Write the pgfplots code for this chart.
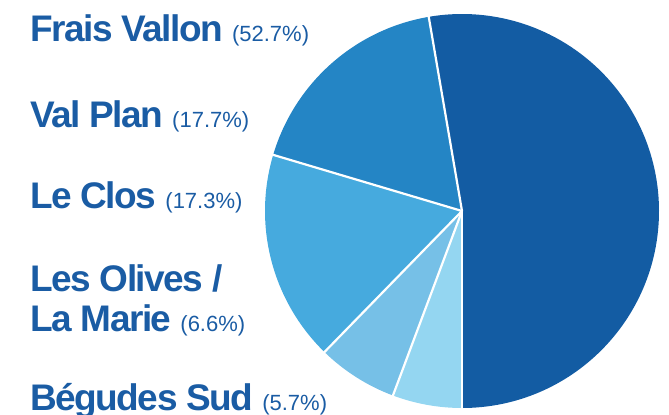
\documentclass[border=0pt]{standalone}
\usepackage{fontspec}
\setmainfont{Liberation Sans}
\newfontfamily\labfont{Liberation Sans}[LetterSpace=-4]
\usepackage{pgfplots}
\pgfplotsset{compat=1.18}

\definecolor{c1}{HTML}{135CA3}
\definecolor{c2}{HTML}{2485C5}
\definecolor{c3}{HTML}{46AADE}
\definecolor{c4}{HTML}{76C0E7}
\definecolor{c5}{HTML}{94D6F1}
\definecolor{txt}{HTML}{1A5CA4}

% shares in percent, clockwise order starting from the bottom
\def\pFV{52.7}
\def\pVP{17.7}
\def\pLC{17.3}
\def\pLO{6.6}
\def\pBS{5.7}

\pgfmathsetmacro\aA{-90}
\pgfmathsetmacro\aB{\aA+3.6*\pFV}
\pgfmathsetmacro\aC{\aB+3.6*\pVP}
\pgfmathsetmacro\aD{\aC+3.6*\pLC}
\pgfmathsetmacro\aE{\aD+3.6*\pLO}
\pgfmathsetmacro\aF{\aE+3.6*\pBS}

\def\cx{462}
\def\cy{204}
\def\R{197bp}

\newcommand\nm[1]{{\labfont\bfseries\fontsize{37bp}{40bp}\selectfont #1}}
\newcommand\pc[1]{\hspace{9bp}{\fontsize{22bp}{24bp}\selectfont(#1\%)}}

\begin{document}
\begin{tikzpicture}
\useasboundingbox (0,0) rectangle (669bp,415bp);
\clip (0,0) rectangle (669bp,415bp);
\begin{axis}[
    at={(0,0)}, anchor=south west,
    x=1bp, y=1bp,
    xmin=0, xmax=669, ymin=0, ymax=415,
    hide axis, clip=false,
]
\fill[c1] (axis cs:\cx,\cy) -- ++(\aA:\R) arc[start angle=\aA, end angle=\aB, radius=\R] -- cycle;
\fill[c2] (axis cs:\cx,\cy) -- ++(\aB:\R) arc[start angle=\aB, end angle=\aC, radius=\R] -- cycle;
\fill[c3] (axis cs:\cx,\cy) -- ++(\aC:\R) arc[start angle=\aC, end angle=\aD, radius=\R] -- cycle;
\fill[c4] (axis cs:\cx,\cy) -- ++(\aD:\R) arc[start angle=\aD, end angle=\aE, radius=\R] -- cycle;
\fill[c5] (axis cs:\cx,\cy) -- ++(\aE:\R) arc[start angle=\aE, end angle=\aF, radius=\R] -- cycle;
\draw[white, line width=2.2bp] (axis cs:\cx,\cy) -- ++(\aA:199bp);
\draw[white, line width=2.2bp] (axis cs:\cx,\cy) -- ++(\aB:199bp);
\draw[white, line width=2.2bp] (axis cs:\cx,\cy) -- ++(\aC:199bp);
\draw[white, line width=2.2bp] (axis cs:\cx,\cy) -- ++(\aD:199bp);
\draw[white, line width=2.2bp] (axis cs:\cx,\cy) -- ++(\aE:199bp);

\node[anchor=base west, inner sep=0pt, text=txt] at (axis cs:30,373.3) {\nm{Frais Vallon}\pc{52.7}};
\node[anchor=base west, inner sep=0pt, text=txt] at (axis cs:30,288) {\nm{Val Plan}\pc{17.7}};
\node[anchor=base west, inner sep=0pt, text=txt] at (axis cs:30,206.5) {\nm{Le Clos}\pc{17.3}};
\node[anchor=base west, inner sep=0pt, text=txt] at (axis cs:30,123.3) {\nm{Les Olives /}};
\node[anchor=base west, inner sep=0pt, text=txt] at (axis cs:30,83.3) {\nm{La Marie}\pc{6.6}};
\node[anchor=base west, inner sep=0pt, text=txt] at (axis cs:30,5) {\nm{Bégudes Sud}\pc{5.7}};
\end{axis}
\end{tikzpicture}
\end{document}
